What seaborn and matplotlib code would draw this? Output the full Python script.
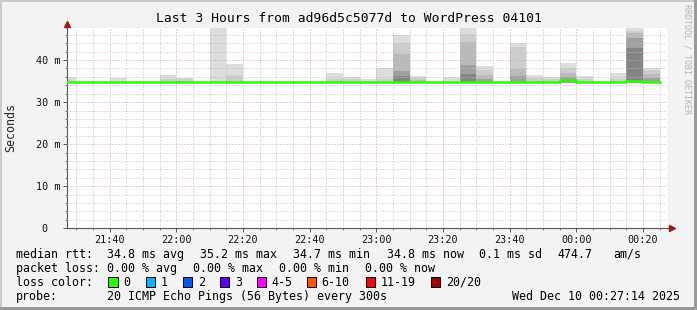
import numpy as np
import pandas as pd
import matplotlib
matplotlib.use("Agg")
import matplotlib.pyplot as plt
import seaborn as sns
from matplotlib.lines import Line2D
from matplotlib.patches import Rectangle

# ---------------- data ----------------
interval_start = ["21:25", "21:30", "21:35", "21:40", "21:45", "21:50", "21:55",
                  "22:00", "22:05", "22:10", "22:15", "22:20", "22:25", "22:30",
                  "22:35", "22:40", "22:45", "22:50", "22:55", "23:00", "23:05",
                  "23:10", "23:15", "23:20", "23:25", "23:30", "23:35", "23:40",
                  "23:45", "23:50", "23:55", "00:00", "00:05", "00:10", "00:15",
                  "00:20"]
median_rtt = [34.8, 34.8, 34.8, 34.8, 34.8, 34.8, 34.8, 34.8, 34.8, 34.8, 34.8,
              34.8, 34.8, 34.8, 34.8, 34.8, 34.8, 34.8, 34.8, 34.8, 34.8, 34.7,
              34.8, 34.8, 34.7, 34.8, 34.8, 34.7, 34.8, 34.8, 35.2, 34.8, 34.8,
              34.8, 35.0, 34.9]
nan = np.nan
# smoke layers: top of each band (outermost/lightest first)
smoke_1 = [36.0, nan, nan, 35.8, nan, nan, 36.4, 35.8, nan, 48.0, 39.0, nan, nan,
           nan, nan, nan, 37.0, 36.0, 35.4, 38.0, 46.0, 36.3, nan, 35.9, 48.0,
           38.6, nan, 44.1, 36.4, 35.9, 39.4, 36.2, nan, 37.0, 48.0, 38.2]
smoke_2 = [nan, nan, nan, nan, nan, nan, 35.6, 35.4, nan, nan, 36.4, nan, nan,
           nan, nan, nan, 35.5, 35.4, nan, 35.6, 44.0, 35.8, nan, nan, 46.1,
           37.6, nan, 43.2, 35.8, 35.4, 38.0, 35.6, nan, 35.5, 47.0, 37.6]
smoke_3 = [nan, nan, nan, nan, nan, nan, nan, nan, nan, nan, nan, nan, nan,
           nan, nan, nan, nan, nan, nan, nan, 41.4, 35.3, nan, nan, 44.4,
           36.4, nan, 37.9, nan, nan, 37.0, nan, nan, nan, 46.4, 36.7]
smoke_4 = [nan, nan, nan, nan, nan, nan, nan, nan, nan, nan, nan, nan, nan,
           nan, nan, nan, nan, nan, nan, nan, 37.3, nan, nan, nan, 38.9,
           35.4, nan, 36.2, nan, nan, 35.9, nan, nan, nan, 45.2, 35.8]
smoke_5 = [nan, nan, nan, nan, nan, nan, nan, nan, nan, nan, nan, nan, nan,
           nan, nan, nan, nan, nan, nan, nan, 36.3, nan, nan, nan, 36.8,
           nan, nan, nan, nan, nan, nan, nan, nan, nan, 42.8, nan]
smoke_floor = 34.6

x_tick_labels = ["21:40", "22:00", "22:20", "22:40", "23:00", "23:20", "23:40",
                 "00:00", "00:20"]
y_tick_values = [0, 10, 20, 30, 40]
y_tick_labels = ["0  ", "10 m", "20 m", "30 m", "40 m"]

title = "Last 3 Hours from ad96d5c5077d to WordPress 04101"
rtt_stats = ["34.8 ms avg", "35.2 ms max", "34.7 ms min", "34.8 ms now",
             "0.1 ms sd", "474.7", "am/s"]
loss_stats = ["0.00 % avg", "0.00 % max", "0.00 % min", "0.00 % now"]
loss_labels = ["0", "1", "2", "3", "4-5", "6-10", "11-19", "20/20"]
loss_colors = ["#26ff00", "#00b8ff", "#0059ff", "#5e00ff", "#ff00ff",
               "#ff5500", "#ff0000", "#a10000"]
probe_text = "20 ICMP Echo Pings (56 Bytes) every 300s"
date_text = "Wed Dec 10 00:27:14 2025"
step_minutes = 5


def to_min(s):
    h, m = map(int, s.split(":"))
    if h < 12:
        h += 24
    return h * 60 + m - 21 * 60


t = np.array([to_min(s) for s in interval_start], dtype=float)
xt = [to_min(s) for s in x_tick_labels]

# ---------------- figure ----------------
W, H = 697, 310
MONO = "DejaVu Sans Mono"
plt.rcParams["font.family"] = MONO

fig = plt.figure(figsize=(W / 100, H / 100), dpi=100, facecolor="#f3f3f3")
x0, x1, ytop, ybot = 67, 667, 27.7, 228.3
ax = fig.add_axes([x0 / W, 1 - ybot / H, (x1 - x0) / W, (ybot - ytop) / H])
ax.set_facecolor("white")

# smoke
layer_colors = ["#dddddd", "#cdcdcd", "#bababa", "#a0a0a0", "#858585"]
for layer, col in zip([smoke_1, smoke_2, smoke_3, smoke_4, smoke_5], layer_colors):
    top = np.array(layer, dtype=float)
    h = np.where(np.isnan(top), 0.0, top - smoke_floor)
    ax.bar(t, h, bottom=smoke_floor, width=step_minutes, align="edge",
           color=col, linewidth=0, zorder=1)

# median line
df = pd.DataFrame({"t": np.append(t, t[-1] + step_minutes),
                   "rtt": median_rtt + [median_rtt[-1]]})
sns.lineplot(data=df, x="t", y="rtt", ax=ax, color=loss_colors[0], lw=1.8,
             drawstyle="steps-post", estimator=None, zorder=3, legend=False)

ax.set_xlim(to_min("21:27") + 14 / 60, to_min("00:27") + 14 / 60)
ax.set_ylim(0, 47.7)
ax.set_xlabel("")
ax.set_ylabel("")

ax.set_xticks(xt)
ax.set_xticklabels(x_tick_labels)
ax.set_xticks([m for m in range(30, 210, 5) if m not in xt], minor=True)
ax.set_yticks(y_tick_values)
ax.set_yticklabels(y_tick_labels)
ax.set_yticks([v for v in range(2, 48, 2) if v % 10], minor=True)

ax.set_axisbelow(False)
ax.grid(which="major", color="#e39a9a", lw=0.72, ls=(0, (1, 2)))
ax.grid(which="minor", color="#bdbdbd", lw=0.72, ls=(0, (1, 2)))
ax.tick_params(which="major", length=3, width=0.7, color="#555555",
               labelsize=7.3, labelcolor="#111111", pad=2)
ax.tick_params(which="minor", length=1.5, width=0.7, color="#777777")
for s in ["top", "right"]:
    ax.spines[s].set_visible(False)
for s in ["left", "bottom"]:
    ax.spines[s].set_color("#555555")
    ax.spines[s].set_linewidth(0.8)

# axis extensions and arrows
fx = lambda px: px / W
fy = lambda py: 1 - py / H
fig.add_artist(Line2D([fx(x0), fx(x0)], [fy(ytop), fy(22)], color="#555555", lw=0.8))
fig.add_artist(Line2D([fx(x1), fx(670)], [fy(ybot), fy(ybot)], color="#555555", lw=0.8))
fig.add_artist(Line2D([fx(x0)], [fy(23.5)], marker="^", ms=5, color="#a01818", lw=0))
fig.add_artist(Line2D([fx(671.5)], [fy(ybot)], marker=">", ms=5, color="#a01818", lw=0))

# frame
fig.add_artist(Rectangle((fx(0), fy(2)), 1, 2 / H, color="#cbcbcb", lw=0))
fig.add_artist(Rectangle((0, 0), 2 / W, 1, color="#cbcbcb", lw=0))
fig.add_artist(Rectangle((fx(694), 0), 3 / W, 1, color="#9a9a9a", lw=0))
fig.add_artist(Rectangle((0, 0), 1, 3 / H, color="#9a9a9a", lw=0))

# texts
fig.text(fx(348.5), fy(19), title, ha="center", va="center", fontsize=9.4,
         color="#000000")
fig.text(fx(10.5), fy(127), "Seconds", rotation=90, ha="center", va="center",
         fontsize=8.4, color="#222222")
fig.text(fx(687), fy(4), "RRDTOOL / TOBI OETIKER", rotation=-90, ha="center",
         va="top", fontsize=6.0, color="#b4b4b4")

fs = 8.4
rows = [254.2, 268.3, 282.2, 296.6]
fig.text(fx(16), fy(rows[0]), "median rtt:", fontsize=fs, va="center")
for s, px in zip(rtt_stats, [107.3, 200, 292.7, 386.7, 479.3, 557.7, 613.7]):
    fig.text(fx(px), fy(rows[0]), s, fontsize=fs, va="center")
fig.text(fx(16), fy(rows[1]), "packet loss:", fontsize=fs, va="center")
for s, px in zip(loss_stats, [107.3, 193.3, 279.3, 365]):
    fig.text(fx(px), fy(rows[1]), s, fontsize=fs, va="center")
fig.text(fx(16), fy(rows[2]), "loss color:", fontsize=fs, va="center")
for s, c, px in zip(loss_labels, loss_colors,
                    [108.3, 145.7, 182.7, 220, 256.7, 306.7, 365.7, 430.7]):
    fig.add_artist(Rectangle((fx(px), fy(rows[2] + 5)), 9.3 / W, 10 / H,
                             facecolor=c, edgecolor="#000000", lw=0.7))
    fig.text(fx(px + 15), fy(rows[2]), s, fontsize=fs, va="center")
fig.text(fx(16), fy(rows[3]), "probe:", fontsize=fs, va="center")
fig.text(fx(107.3), fy(rows[3]), probe_text, fontsize=fs, va="center")
fig.text(fx(680), fy(rows[3]), date_text, fontsize=fs, va="center", ha="right")

fig.savefig("out.png", dpi=100, facecolor=fig.get_facecolor())
